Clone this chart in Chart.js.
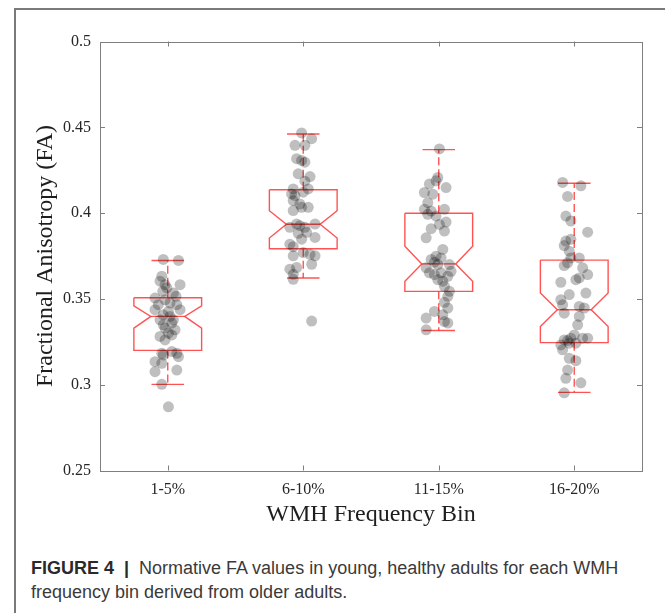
<!DOCTYPE html>
<html lang="en">
<head>
    <meta charset="UTF-8">
    <title>Normative FA values by WMH frequency bin</title>
    <script src="https://cdn.jsdelivr.net/npm/chart.js"></script>
    <style>
        body {
            margin: 0;
            background-color: #ffffff;
            width: 665px;
            height: 613px;
            overflow: hidden;
            position: relative;
        }
        .frame {
            position: absolute;
            left: 14px;
            top: 8px;
            right: -10px;
            bottom: -10px;
            border-left: 2px solid #7a7a7a;
            border-top: 2px solid #7a7a7a;
        }
        #faChart {
            position: absolute;
            left: 0;
            top: 0;
        }
        .caption {
            position: absolute;
            left: 31px;
            top: 556px;
            width: 625px;
            font-family: "Liberation Sans", Arial, sans-serif;
            font-size: 18px;
            line-height: 24px;
            color: #3a3a3a;
        }
        .caption b {
            color: #2a2a2a;
        }
    </style>
</head>
<body>
    <div class="frame"></div>
    <canvas id="faChart" width="665" height="545"></canvas>
    <div class="caption"><b>FIGURE 4 &nbsp;|&nbsp;</b> Normative FA values in young, healthy adults for each WMH frequency bin derived from older adults.</div>

    <script>
        // categorie e tick
        const categories = ['1-5%', '6-10%', '11-15%', '16-20%'];
        const yTickValues = [0.25, 0.3, 0.35, 0.4, 0.45, 0.5];
        const yTickLabels = ['0.25', '0.3', '0.35', '0.4', '0.45', '0.5'];

        // statistiche dei box
        const q1 = [0.3200, 0.3792, 0.3544, 0.3245];
        const median = [0.3398, 0.3935, 0.3704, 0.3437];
        const q3 = [0.3507, 0.4136, 0.3999, 0.3726];
        const notchLo = [0.3330, 0.3855, 0.3603, 0.3339];
        const notchHi = [0.3460, 0.4014, 0.3807, 0.3534];
        const whiskerLo = [0.3002, 0.3622, 0.3316, 0.2955];
        const whiskerHi = [0.3724, 0.4461, 0.4370, 0.4174];

        // valori FA dei singoli soggetti e spostamento orizzontale (jitter)
        const fa1 = [0.3730, 0.3724, 0.3632, 0.3603, 0.3583, 0.3564, 0.3583, 0.3544, 0.3534, 0.3515, 0.3505, 0.3495, 0.3476, 0.3466, 0.3466, 0.3437, 0.3427, 0.3437, 0.3407, 0.3398, 0.3378, 0.3378, 0.3349, 0.3359, 0.3330, 0.3320, 0.3300, 0.3290, 0.3281, 0.3261, 0.3183, 0.3193, 0.3183, 0.3173, 0.3163, 0.3134, 0.3125, 0.3076, 0.3085, 0.3002, 0.2871];
        const jit1 = [-0.033, 0.079, -0.044, -0.057, -0.02, -0.007, 0.091, -0.037, 0.042, 0.061, -0.094, -0.02, 0.017, -0.07, 0.067, -0.094, 0.005, 0.091, -0.033, 0.017, -0.057, 0.042, -0.033, 0.03, -0.02, 0.054, 0.005, 0.03, -0.057, -0.02, -0.044, 0.03, 0.067, -0.033, 0.079, -0.094, -0.044, -0.094, 0.067, -0.044, 0.005];
        const fa2 = [0.4467, 0.4434, 0.4395, 0.4395, 0.4317, 0.4307, 0.4297, 0.4229, 0.4213, 0.4186, 0.4141, 0.4112, 0.4102, 0.4141, 0.4122, 0.4073, 0.4053, 0.4034, 0.4034, 0.4015, 0.3936, 0.3927, 0.3917, 0.3917, 0.3936, 0.3882, 0.3888, 0.3848, 0.3858, 0.3819, 0.3804, 0.3770, 0.3760, 0.3751, 0.3751, 0.3702, 0.3683, 0.3673, 0.3643, 0.3614, 0.3371];
        const jit2 = [-0.012, 0.062, -0.061, 0.012, -0.049, -0.012, 0.012, -0.037, 0.05, 0.012, -0.074, -0.086, -0.061, 0.037, 0, -0.074, -0.025, -0.012, 0.037, -0.074, -0.049, -0.025, -0.099, 0.012, 0.087, -0.037, 0.025, -0.012, 0.087, -0.099, -0.074, 0, 0.05, 0.087, -0.074, 0.062, -0.049, -0.099, -0.074, -0.074, 0.062];
        const fa3 = [0.4374, 0.4208, 0.4188, 0.4169, 0.4149, 0.4120, 0.4110, 0.4061, 0.4022, 0.4012, 0.4022, 0.3983, 0.3993, 0.3948, 0.3934, 0.3909, 0.3895, 0.3856, 0.3788, 0.3749, 0.3739, 0.3730, 0.3714, 0.3700, 0.3700, 0.3681, 0.3652, 0.3642, 0.3652, 0.3661, 0.3632, 0.3612, 0.3603, 0.3573, 0.3544, 0.3515, 0.3480, 0.3447, 0.3427, 0.3407, 0.3388, 0.3368, 0.3359, 0.3320];
        const jit3 = [0.005, -0.007, -0.02, -0.069, 0.054, -0.106, -0.044, -0.081, -0.106, -0.056, 0.042, -0.02, -0.081, 0.054, 0.005, -0.056, 0.042, -0.093, 0.03, -0.02, 0.017, -0.056, -0.032, -0.007, 0.079, -0.093, -0.069, -0.032, 0.017, 0.091, 0.067, -0.007, 0.03, 0.042, 0.079, 0.067, 0.042, 0.067, -0.032, 0.03, -0.093, 0.042, 0.067, -0.093];
        const fa4 = [0.4179, 0.4159, 0.4097, 0.3983, 0.3954, 0.3889, 0.3847, 0.3837, 0.3811, 0.3778, 0.3739, 0.3739, 0.3694, 0.3710, 0.3681, 0.3622, 0.3642, 0.3597, 0.3612, 0.3525, 0.3534, 0.3495, 0.3466, 0.3456, 0.3447, 0.3417, 0.3398, 0.3349, 0.3290, 0.3261, 0.3257, 0.3271, 0.3271, 0.3271, 0.3232, 0.3242, 0.3242, 0.3203, 0.3154, 0.3140, 0.3085, 0.3037, 0.3011, 0.2953];
        const jit4 = [-0.086, 0.049, -0.049, -0.062, -0.025, 0.099, -0.025, -0.062, -0.074, -0.037, -0.025, 0.037, -0.074, -0.049, 0.062, 0.037, 0.099, -0.099, 0.012, -0.037, 0.086, -0.099, -0.086, 0.037, 0.074, -0.074, 0.037, 0.025, 0, -0.074, -0.049, -0.025, 0.062, 0.099, -0.099, -0.037, 0.012, -0.086, -0.037, 0.012, -0.049, -0.062, 0.049, -0.074];

        const groups = [[fa1, jit1], [fa2, jit2], [fa3, jit3], [fa4, jit4]];

        // larghezze dei box in unita' di categoria
        const boxHalf = 0.25;
        const notchHalf = 0.125;
        const capHalf = 0.12;

        // punti dei soggetti
        const pointData = [];
        groups.forEach(([vals, jit], i) => {
            vals.forEach((v, k) => pointData.push({x: i + 1 + jit[k], y: v}));
        });

        // contorni dei box con notch, mediane, baffi e cappucci (y: null = interruzione)
        const boxData = [], medianData = [], whiskerData = [], capData = [];
        categories.forEach((c, i) => {
            const cx = i + 1;
            const gap = {x: cx, y: null};
            boxData.push(
                {x: cx - boxHalf, y: q3[i]}, {x: cx + boxHalf, y: q3[i]},
                {x: cx + boxHalf, y: notchHi[i]}, {x: cx + notchHalf, y: median[i]},
                {x: cx + boxHalf, y: notchLo[i]}, {x: cx + boxHalf, y: q1[i]},
                {x: cx - boxHalf, y: q1[i]}, {x: cx - boxHalf, y: notchLo[i]},
                {x: cx - notchHalf, y: median[i]}, {x: cx - boxHalf, y: notchHi[i]},
                {x: cx - boxHalf, y: q3[i]}, gap
            );
            medianData.push({x: cx - notchHalf, y: median[i]}, {x: cx + notchHalf, y: median[i]}, gap);
            whiskerData.push(
                {x: cx, y: q3[i]}, {x: cx, y: whiskerHi[i]}, gap,
                {x: cx, y: q1[i]}, {x: cx, y: whiskerLo[i]}, gap
            );
            capData.push(
                {x: cx - capHalf, y: whiskerHi[i]}, {x: cx + capHalf, y: whiskerHi[i]}, gap,
                {x: cx - capHalf, y: whiskerLo[i]}, {x: cx + capHalf, y: whiskerLo[i]}, gap
            );
        });

        const red = 'rgba(255, 40, 40, 0.8)';
        const lineSet = (data, dash) => ({
            data: data,
            showLine: true,
            spanGaps: false,
            borderColor: red,
            borderWidth: 1.4,
            borderDash: dash,
            pointRadius: 0,
            fill: false
        });

        // riquadro degli assi e tacche verso l'interno (stile MATLAB)
        const axisBox = {
            id: 'axisBox',
            afterDatasetsDraw(chart) {
                const {ctx, chartArea: a, scales: {x, y}} = chart;
                ctx.save();
                ctx.strokeStyle = '#7f7f7f';
                ctx.lineWidth = 1;
                ctx.strokeRect(Math.round(a.left) + 0.5, Math.round(a.top) + 0.5,
                    Math.round(a.right - a.left), Math.round(a.bottom - a.top));
                ctx.beginPath();
                categories.forEach((c, i) => {
                    const px = Math.round(x.getPixelForValue(i + 1)) + 0.5;
                    ctx.moveTo(px, a.bottom); ctx.lineTo(px, a.bottom - 5);
                    ctx.moveTo(px, a.top); ctx.lineTo(px, a.top + 5);
                });
                yTickValues.forEach(v => {
                    const py = Math.round(y.getPixelForValue(v)) + 0.5;
                    ctx.moveTo(a.left, py); ctx.lineTo(a.left + 5, py);
                    ctx.moveTo(a.right, py); ctx.lineTo(a.right - 5, py);
                });
                ctx.stroke();
                ctx.restore();
            }
        };

        const serif = '"Liberation Serif", "Times New Roman", serif';
        const ctx = document.getElementById('faChart').getContext('2d');
        new Chart(ctx, {
            type: 'scatter',
            data: {
                datasets: [
                    {
                        data: pointData,
                        backgroundColor: 'rgba(0, 0, 0, 0.25)',
                        borderWidth: 0,
                        pointRadius: 5.5
                    },
                    lineSet(boxData, []),
                    lineSet(medianData, []),
                    lineSet(whiskerData, [8, 4]),
                    lineSet(capData, [])
                ]
            },
            options: {
                responsive: false,
                animation: false,
                layout: {padding: {top: 41.5, right: 23, left: 0, bottom: 0}},
                plugins: {
                    legend: {display: false},
                    tooltip: {enabled: false}
                },
                scales: {
                    x: {
                        type: 'linear',
                        min: 0.5,
                        max: 4.5,
                        afterBuildTicks: s => { s.ticks = categories.map((c, i) => ({value: i + 1})); },
                        afterFit: s => { s.height = 74.5; },
                        ticks: {
                            callback: (v, i) => categories[i],
                            font: {family: serif, size: 16},
                            color: '#262626',
                            padding: 10,
                            maxRotation: 0
                        },
                        grid: {display: false, drawTicks: false},
                        border: {display: false},
                        title: {
                            display: true,
                            text: 'WMH Frequency Bin',
                            font: {family: serif, size: 24},
                            color: '#1e1e1e',
                            padding: {top: 0, bottom: 15.6}
                        }
                    },
                    y: {
                        min: 0.25,
                        max: 0.5,
                        afterBuildTicks: s => { s.ticks = yTickValues.map(v => ({value: v})); },
                        afterFit: s => { s.width = 100; },
                        ticks: {
                            callback: (v, i) => yTickLabels[i],
                            font: {family: serif, size: 16},
                            color: '#262626',
                            padding: 9
                        },
                        grid: {display: false, drawTicks: false},
                        border: {display: false},
                        title: {
                            display: true,
                            text: 'Fractional Anisotropy (FA)',
                            font: {family: serif, size: 24},
                            color: '#1e1e1e',
                            padding: {top: 31.6, bottom: 0}
                        }
                    }
                }
            },
            plugins: [axisBox]
        });
    </script>
</body>
</html>
